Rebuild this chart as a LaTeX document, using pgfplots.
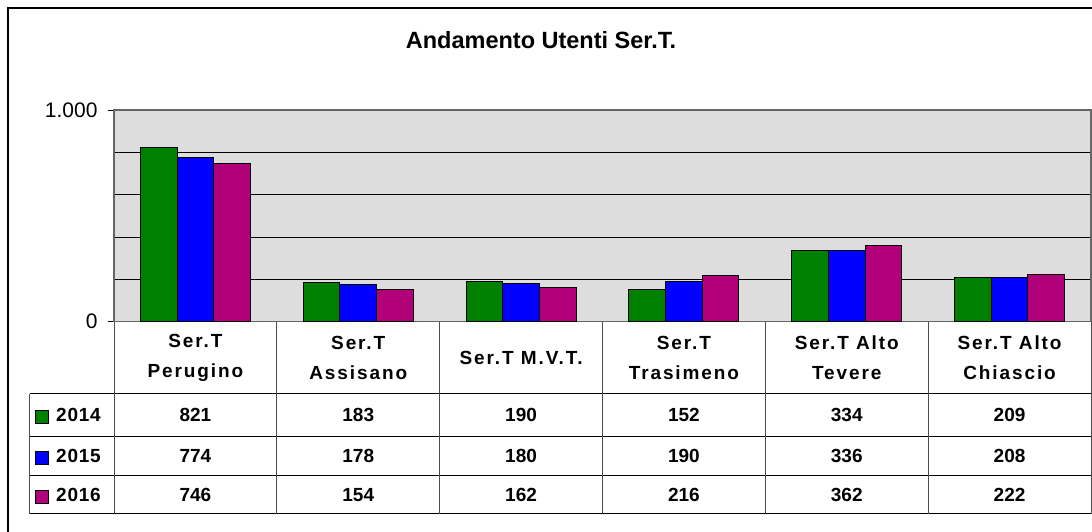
\documentclass[border=0pt]{standalone}
\usepackage{fontspec}
\setmainfont{Liberation Sans}
\newfontfamily\hdrfont[LetterSpace=10]{Liberation Sans}
\newfontfamily\legfont[LetterSpace=4]{Liberation Sans}
\usepackage{pgfplots}
\usepackage{pgfplotstable}
\pgfplotsset{compat=1.18}

\definecolor{c2014}{RGB}{0,128,0}
\definecolor{c2015}{RGB}{0,0,255}
\definecolor{c2016}{RGB}{178,0,122}
\definecolor{plotbg}{RGB}{221,221,221}

% utenti per Ser.T (1=Perugino ... 6=Alto Chiascio)
\pgfplotstableread{
x y2014 y2015 y2016
1 821 774 746
2 183 178 154
3 190 180 162
4 152 190 216
5 334 336 362
6 209 208 222
}\datatable

\begin{document}
\begin{tikzpicture}[x=1pt,y=1pt]
\useasboundingbox (0,0) rectangle (1092,532);
\draw[line width=1.6pt] (8,0) -- (8,524) -- (1092,524);
\node[font=\bfseries\fontsize{23.5}{26}\selectfont] at (541,491.5) {Andamento Utenti Ser.T.};

\begin{axis}[
    at={(114pt,210.3pt)}, anchor=south west,
    scale only axis, width=977pt, height=211.7pt,
    xmin=0.5, xmax=6.5, ymin=0, ymax=1000,
    ybar=0pt, bar width=36.7pt,
    axis background/.style={fill=plotbg},
    axis line style={draw=gray!80!black, line width=1.4pt},
    xtick=\empty,
    ytick={0,1000}, yticklabels={0,1.000},
    minor ytick={200,400,600,800},
    yminorgrids=true,
    minor grid style={black, line width=0.8pt},
    tick pos=left, tick align=outside,
    major tick length=6pt, minor tick length=0pt,
    tick style={black, line width=0.8pt},
    yticklabel style={font=\fontsize{21}{22}\selectfont, xshift=-7pt},
]
\addplot[fill=c2014, draw=black, line width=1pt] table[x=x,y=y2014]{\datatable};
\addplot[fill=c2015, draw=black, line width=1pt] table[x=x,y=y2015]{\datatable};
\addplot[fill=c2016, draw=black, line width=1pt] table[x=x,y=y2016]{\datatable};
\end{axis}

% tabella dati
\def\colw{162.833}
\foreach \yy in {138,95.3,56,18}
  \draw[line width=1pt] (29.5,\yy) -- (1091,\yy);
\foreach \k in {0,...,6}
  \draw[gray!60!black, line width=1pt] ({114+\k*\colw},210.3) -- ({114+\k*\colw},18);
\draw[gray!60!black, line width=1pt] (29.5,138) -- (29.5,18);

\foreach \k/\lab in {1/{Ser.T\\Perugino}, 2/{Ser.T\\Assisano}, 3/{Ser.T M.V.T.},
                     4/{Ser.T\\Trasimeno}, 5/{Ser.T Alto\\Tevere}, 6/{Ser.T Alto\\Chiascio}}
  \node[align=center, font=\hdrfont\bfseries\fontsize{19}{30}\selectfont]
    at ({114+(\k-0.5)*\colw},174.1) {\lab};

\foreach \c/\yc/\col/\yr in {c2014/116.65/y2014/2014, c2015/75.65/y2015/2015, c2016/37/y2016/2016} {
  \draw[fill=\c, line width=1pt] (35.5,\yc-8.5) rectangle (48.5,\yc+4.5);
  \node[anchor=west, font=\legfont\bfseries\fontsize{19}{22}\selectfont, inner sep=0pt] at (56,\yc) {\yr};
  \foreach \k in {1,...,6} {
    \pgfmathtruncatemacro\rr{\k-1}
    \pgfplotstablegetelem{\rr}{\col}\of\datatable
    \node[font=\bfseries\fontsize{19}{22}\selectfont] at ({114+(\k-0.5)*\colw},\yc) {\pgfplotsretval};
  }
}
\end{tikzpicture}
\end{document}
